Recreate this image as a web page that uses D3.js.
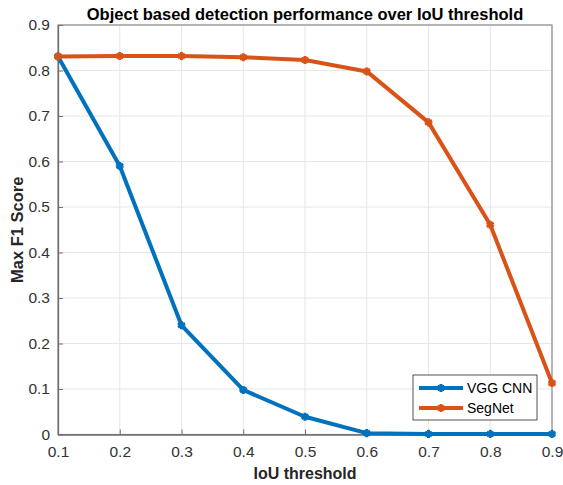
<!doctype html>
<html lang="en">
<head>
<meta charset="utf-8">
<title>Object based detection performance</title>
<script src="https://cdnjs.cloudflare.com/ajax/libs/d3/7.8.5/d3.min.js"></script>
<style>
  body { margin: 0; background: #fff; }
  text { font-family: Arial, "Liberation Sans", sans-serif; }
</style>
</head>
<body>
<svg width="563" height="485" id="svg"></svg>
<script>
  var thresholds = [0.1, 0.2, 0.3, 0.4, 0.5, 0.6, 0.7, 0.8, 0.9];
  var vggCnn = [0.831, 0.590, 0.240, 0.098, 0.039, 0.003, 0.001, 0.001, 0.001];
  var segNet = [0.831, 0.832, 0.832, 0.829, 0.823, 0.798, 0.686, 0.461, 0.113];
  var seriesNames = ['VGG CNN', 'SegNet'];
  var xTicks = [0.1, 0.2, 0.3, 0.4, 0.5, 0.6, 0.7, 0.8, 0.9];
  var yTicks = [0, 0.1, 0.2, 0.3, 0.4, 0.5, 0.6, 0.7, 0.8, 0.9];

  var colors = ['#0072BD', '#D95319'];
  var plotLeft = 58, plotRight = 552, plotTop = 25, plotBottom = 434.5;

  var svg = d3.select('#svg');

  var x = d3.scaleLinear().domain([0.1, 0.9]).range([plotLeft, plotRight]);
  var y = d3.scaleLinear().domain([0, 0.9]).range([plotBottom, plotTop]);

  // grid
  svg.append('g').selectAll('line')
    .data(xTicks).enter().append('line')
    .attr('x1', d => x(d)).attr('x2', d => x(d))
    .attr('y1', plotTop).attr('y2', plotBottom)
    .attr('stroke', '#e6e6e6').attr('stroke-width', 1);
  svg.append('g').selectAll('line')
    .data(yTicks).enter().append('line')
    .attr('x1', plotLeft).attr('x2', plotRight)
    .attr('y1', d => y(d)).attr('y2', d => y(d))
    .attr('stroke', '#e6e6e6').attr('stroke-width', 1);

  // box
  svg.append('rect')
    .attr('x', plotLeft).attr('y', plotTop)
    .attr('width', plotRight - plotLeft).attr('height', plotBottom - plotTop)
    .attr('fill', 'none').attr('stroke', '#8c8c8c').attr('stroke-width', 1.2);

  var xAxis = svg.append('g')
    .attr('transform', 'translate(0,' + plotBottom + ')')
    .call(d3.axisBottom(x).tickValues(xTicks).tickFormat(d3.format('.1f')).tickSizeInner(-5).tickSizeOuter(0).tickPadding(11));
  var yAxis = svg.append('g')
    .attr('transform', 'translate(' + plotLeft + ',0)')
    .call(d3.axisLeft(y).tickValues(yTicks).tickFormat(d => d === 0 ? '0' : d3.format('.1f')(d)).tickSizeInner(-5).tickSizeOuter(0).tickPadding(8));

  [xAxis, yAxis].forEach(function(a) {
    a.select('.domain').attr('stroke', '#6e6e6e').attr('stroke-width', 1.3);
    a.selectAll('.tick line').attr('stroke', '#6e6e6e');
    a.selectAll('.tick text').attr('fill', '#333').style('font-size', '15.5px');
  });

  var line = d3.line().x((d, i) => x(thresholds[i])).y(d => y(d));
  var star = d3.symbol().type(d3.symbolAsterisk).size(45);

  [vggCnn, segNet].forEach(function(vals, k) {
    svg.append('path')
      .datum(vals)
      .attr('d', line)
      .attr('fill', 'none')
      .attr('stroke', colors[k])
      .attr('stroke-width', 4)
      .attr('stroke-linejoin', 'round');
    svg.append('g').selectAll('path')
      .data(vals).enter().append('path')
      .attr('d', star)
      .attr('transform', (d, i) => 'translate(' + x(thresholds[i]) + ',' + y(d) + ')')
      .attr('fill', 'none')
      .attr('stroke', colors[k])
      .attr('stroke-width', 3);
  });

  // title and labels
  svg.append('text')
    .attr('x', (plotLeft + plotRight) / 2).attr('y', 20)
    .attr('text-anchor', 'middle')
    .style('font-size', '16.5px').style('font-weight', 'bold').attr('fill', '#000')
    .text('Object based detection performance over IoU threshold');
  svg.append('text')
    .attr('x', (plotLeft + plotRight) / 2).attr('y', 479)
    .attr('text-anchor', 'middle')
    .style('font-size', '16px').style('font-weight', 'bold').attr('fill', '#262626')
    .text('IoU threshold');
  svg.append('text')
    .attr('transform', 'translate(23,' + (plotTop + plotBottom) / 2 + ') rotate(-90)')
    .attr('text-anchor', 'middle')
    .style('font-size', '16.5px').style('font-weight', 'bold').attr('fill', '#262626')
    .text('Max F1 Score');

  // legend
  var lg = svg.append('g').attr('transform', 'translate(413,375)');
  lg.append('rect')
    .attr('width', 124).attr('height', 45)
    .attr('fill', '#fff').attr('stroke', '#262626').attr('stroke-width', 0.8);
  seriesNames.forEach(function(name, k) {
    var ly = 13 + k * 20;
    lg.append('line')
      .attr('x1', 6).attr('x2', 50).attr('y1', ly).attr('y2', ly)
      .attr('stroke', colors[k]).attr('stroke-width', 4);
    lg.append('path')
      .attr('d', star)
      .attr('transform', 'translate(28,' + ly + ')')
      .attr('fill', 'none').attr('stroke', colors[k]).attr('stroke-width', 3);
    lg.append('text')
      .attr('x', 54).attr('y', ly + 5)
      .style('font-size', '14px').attr('fill', '#000')
      .text(name);
  });
</script>
</body>
</html>
